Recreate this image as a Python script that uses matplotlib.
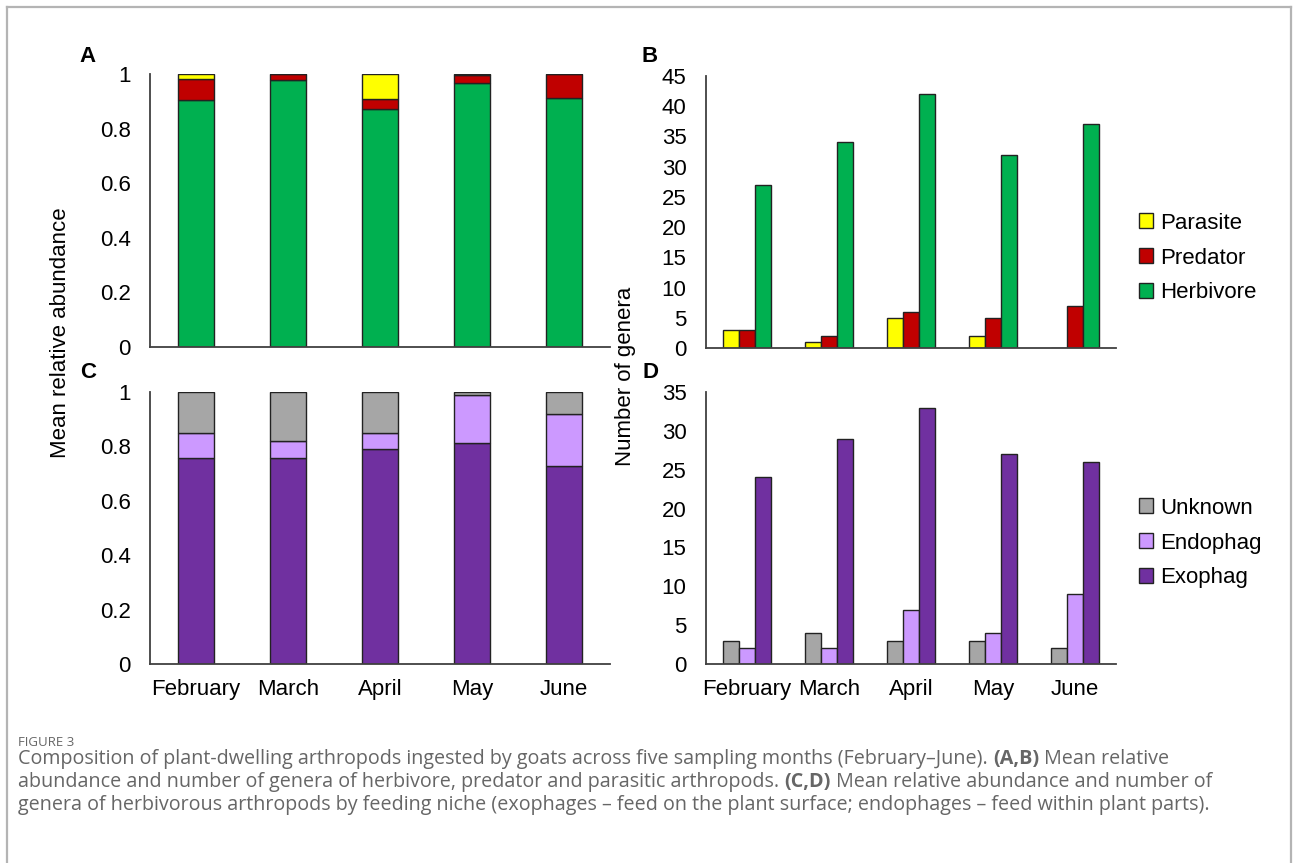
import matplotlib
matplotlib.use("Agg")
import matplotlib.pyplot as plt
from matplotlib.lines import Line2D
import numpy as np

# ---- data -------------------------------------------------------------
months = ["February", "March", "April", "May", "June"]

# Panel A: mean relative abundance by trophic group (stacked)
rel_herbivore = [0.904, 0.977, 0.872, 0.966, 0.911]
rel_predator = [0.078, 0.023, 0.035, 0.029, 0.089]
rel_parasite = [0.018, 0.000, 0.093, 0.005, 0.000]

# Panel B: number of genera by trophic group
gen_parasite = [3, 1, 5, 2, 0]
gen_predator = [3, 2, 6, 5, 7]
gen_herbivore = [27, 34, 42, 32, 37]

# Panel C: mean relative abundance by feeding niche (stacked)
rel_exophag = [0.758, 0.756, 0.790, 0.812, 0.727]
rel_endophag = [0.092, 0.063, 0.060, 0.178, 0.193]
rel_unknown = [0.150, 0.181, 0.150, 0.010, 0.080]

# Panel D: number of genera by feeding niche
gen_unknown = [3, 4, 3, 3, 2]
gen_endophag = [2, 2, 7, 4, 9]
gen_exophag = [24, 29, 33, 27, 26]

rel_ticks = [0, 0.2, 0.4, 0.6, 0.8, 1.0]
rel_ticklabels = ["0", "0.2", "0.4", "0.6", "0.8", "1"]
ticks_b = list(range(0, 46, 5))
ticks_d = list(range(0, 36, 5))

# ---- style ------------------------------------------------------------
YELLOW, RED, GREEN = "#FFFF00", "#C00000", "#00B050"
GREY, LILAC, PURPLE = "#A6A6A6", "#CC99FF", "#7030A0"
EDGE = "#222222"
plt.rcParams["font.family"] = ["Liberation Sans", "DejaVu Sans"]
FS = 16

W, H = 1293, 863
fig = plt.figure(figsize=(W / 100, H / 100), dpi=100)


def px_axes(x0, x1, y_top, y_bot):
    return fig.add_axes([x0 / W, 1 - y_bot / H, (x1 - x0) / W, (y_bot - y_top) / H])


def style(ax, ymax, ticks, labels, show_x):
    ax.set_ylim(0, ymax)
    ax.set_xlim(-0.5, 4.5)
    for s in ("top", "right"):
        ax.spines[s].set_visible(False)
    for s in ("left", "bottom"):
        ax.spines[s].set_color("#404040")
        ax.spines[s].set_linewidth(1.3)
    ax.set_yticks(ticks)
    ax.set_yticklabels(labels)
    ax.tick_params(axis="y", length=0, pad=14, labelsize=FS)
    ax.set_xticks(range(len(months)))
    if show_x:
        ax.set_xticklabels(months)
        ax.tick_params(axis="x", length=0, pad=11, labelsize=FS)
    else:
        ax.set_xticklabels([])
        ax.tick_params(axis="x", length=0)


x = np.arange(len(months))
bw = 0.4
bkw = dict(edgecolor=EDGE, linewidth=1.0)

# A: stacked relative abundance, trophic groups
axA = px_axes(150, 610, 74, 347)
b1 = np.array(rel_herbivore)
b2 = b1 + np.array(rel_predator)
axA.bar(x, rel_herbivore, bw, color=GREEN, **bkw)
axA.bar(x, rel_predator, bw, bottom=b1, color=RED, **bkw)
axA.bar(x, rel_parasite, bw, bottom=b2, color=YELLOW, **bkw)
style(axA, 1.0, rel_ticks, rel_ticklabels, False)

# C: stacked relative abundance, feeding niche
axC = px_axes(150, 610, 392, 664)
c1 = np.array(rel_exophag)
c2 = c1 + np.array(rel_endophag)
axC.bar(x, rel_exophag, bw, color=PURPLE, **bkw)
axC.bar(x, rel_endophag, bw, bottom=c1, color=LILAC, **bkw)
axC.bar(x, rel_unknown, bw, bottom=c2, color=GREY, **bkw)
style(axC, 1.0, rel_ticks, rel_ticklabels, True)

# B: grouped counts, trophic groups
gw = 0.195
axB = px_axes(706, 1116, 76, 348)
axB.bar(x - gw, gen_parasite, gw, color=YELLOW, label="Parasite", **bkw)
axB.bar(x, gen_predator, gw, color=RED, label="Predator", **bkw)
axB.bar(x + gw, gen_herbivore, gw, color=GREEN, label="Herbivore", **bkw)
style(axB, 45, ticks_b, [str(t) for t in ticks_b], False)

# D: grouped counts, feeding niche
axD = px_axes(706, 1116, 392, 664)
axD.bar(x - gw, gen_unknown, gw, color=GREY, label="Unknown", **bkw)
axD.bar(x, gen_endophag, gw, color=LILAC, label="Endophag", **bkw)
axD.bar(x + gw, gen_exophag, gw, color=PURPLE, label="Exophag", **bkw)
style(axD, 35, ticks_d, [str(t) for t in ticks_d], True)

legkw = dict(frameon=False, fontsize=FS, handlelength=0.65, handleheight=0.65,
             handletextpad=0.3, labelspacing=0.62, borderaxespad=0,
             loc="center left")
axB.legend(bbox_to_anchor=(1130 / W, 1 - 258 / H),
           bbox_transform=fig.transFigure, **legkw)
axD.legend(bbox_to_anchor=(1130 / W, 1 - 543 / H),
           bbox_transform=fig.transFigure, **legkw)

# axis titles and panel letters
fig.text(61 / W, 1 - 333 / H, "Mean relative abundance", rotation=90,
         ha="center", va="center", fontsize=FS)
fig.text(625 / W, 1 - 376 / H, "Number of genera", rotation=90,
         ha="center", va="center", fontsize=FS)
for lbl, px, py in (("A", 88, 57), ("B", 650, 57), ("C", 88, 372), ("D", 650, 372)):
    fig.text(px / W, 1 - py / H, lbl, ha="center", va="center",
             fontsize=FS, fontweight="bold")

# frame around the figure
for xs, ys in (([7, 7], [7, H]), ([7, 1291], [7, 7]), ([1291, 1291], [7, H])):
    fig.add_artist(Line2D([v / W for v in xs], [1 - v / H for v in ys],
                          color="#B4B4B4", lw=1.6, transform=fig.transFigure))

# caption
CAP = "#666666"
capfont = ["Open Sans", "DejaVu Sans"]
fig.text(18 / W, 1 - 742 / H, "FIGURE 3", fontsize=9.5, color=CAP,
         family=capfont, va="center")

cap_lines = [
    [("Composition of plant-dwelling arthropods ingested by goats across five "
      "sampling months (February\u2013June). ", "normal"),
     ("(A,B)", "bold"), (" Mean relative", "normal")],
    [("abundance and number of genera of herbivore, predator and parasitic "
      "arthropods. ", "normal"),
     ("(C,D)", "bold"), (" Mean relative abundance and number of", "normal")],
    [("genera of herbivorous arthropods by feeding niche (exophages \u2013 feed on "
      "the plant surface; endophages \u2013 feed within plant parts).", "normal")],
]
renderer = fig.canvas.get_renderer()
for i, segs in enumerate(cap_lines):
    xpos = 18
    ypos = 764 + 23 * i
    for txt, wt in segs:
        t = fig.text(xpos / W, 1 - ypos / H, txt, fontsize=14.2, color=CAP,
                     family=capfont, fontweight=wt, va="baseline")
        ext = t.get_window_extent(renderer)
        xpos += ext.width

fig.savefig("out.png", dpi=100)
